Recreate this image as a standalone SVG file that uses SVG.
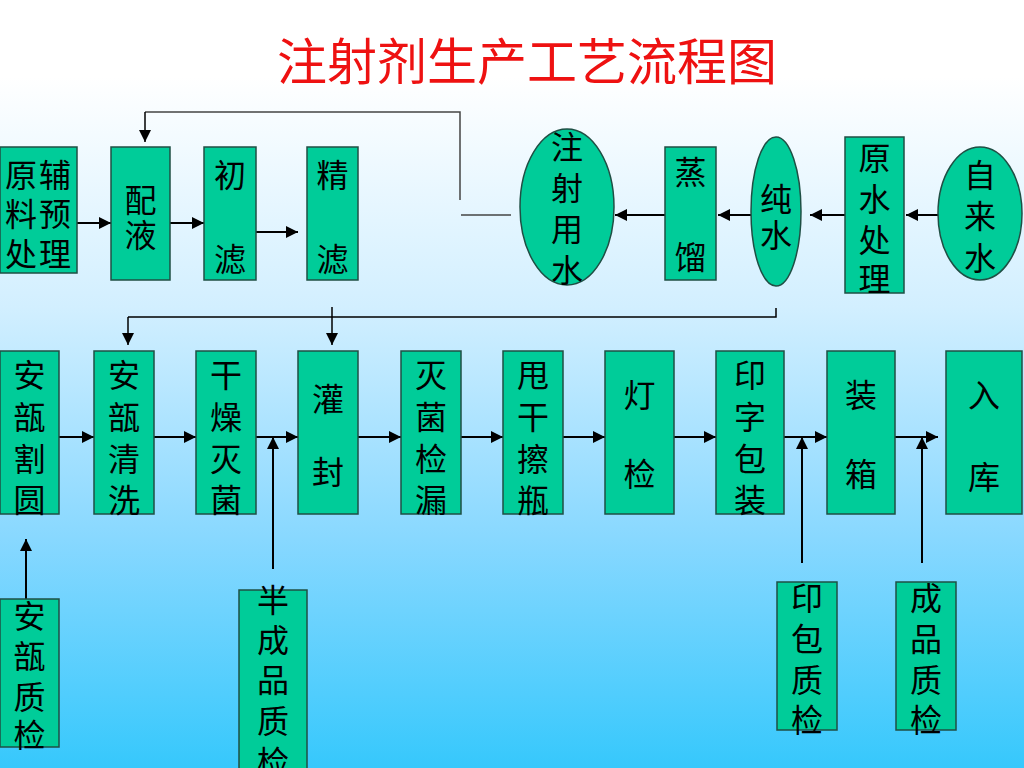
<svg xmlns="http://www.w3.org/2000/svg" width="1024" height="768" viewBox="0 0 1024 768">
<defs>
<linearGradient id="bg" x1="0" y1="0" x2="0" y2="1">
<stop offset="0" stop-color="#ffffff"/>
<stop offset="0.1" stop-color="#ffffff"/>
<stop offset="0.4" stop-color="#d2efff"/>
<stop offset="0.7" stop-color="#88d8ff"/>
<stop offset="1" stop-color="#36c8fc"/>
</linearGradient>
<marker id="ah" viewBox="0 0 12 12" refX="12" refY="6" markerWidth="13" markerHeight="12" markerUnits="userSpaceOnUse" orient="auto">
<path d="M0,0 L12,6 L0,12 z" fill="#000"/>
</marker>
</defs>
<style>
.box{fill:#00cc99;stroke:#1f4f44;stroke-width:1.5}
.t{font-family:"Noto Sans CJK SC","Noto Sans CJK JP",sans-serif;font-size:32px;fill:#000;text-anchor:middle;dominant-baseline:central}
.c{fill:none;stroke:#000;stroke-width:2}
.a{marker-end:url(#ah)}
.g{fill:none;stroke:#444;stroke-width:1.5}
</style>
<rect x="0" y="0" width="1024" height="768" fill="url(#bg)"/>
<text x="527" y="58" style="font-family:'Noto Sans CJK SC',sans-serif;font-size:50px;fill:#ee1111;text-anchor:middle;dominant-baseline:central">注射剂生产工艺流程图</text>

<g id="connectors">
<path class="c a" d="M77,223 H111"/>
<path class="c a" d="M162,223 H204"/>
<path class="c a" d="M256,232 H298"/>
<path class="g" d="M460,200 V112 H145"/>
<path class="c a" d="M145,112 V142" style="stroke-width:1.5"/>
<path class="g" d="M461,215 H511"/>
<path class="c a" d="M665,215 H615"/>
<path class="c a" d="M751,215 H718"/>
<path class="c a" d="M845,215 H810"/>
<path class="c a" d="M939,215 H906"/>
<path class="c" d="M776,308 V317 H128" style="stroke-width:1.5"/>
<path class="c a" d="M128,317 V345" style="stroke-width:1.5"/>
<path class="c a" d="M332,307 V345" style="stroke-width:1.5"/>
<path class="c a" d="M59,437 H94"/>
<path class="c a" d="M154,437 H196"/>
<path class="c a" d="M256,437 H298"/>
<path class="c a" d="M358,437 H401"/>
<path class="c a" d="M461,437 H503"/>
<path class="c a" d="M563,437 H605"/>
<path class="c a" d="M674,437 H716"/>
<path class="c a" d="M784,437 H827"/>
<path class="c a" d="M895,437 H938"/>
<path class="c a" d="M26,599 V539"/>
<path class="c a" d="M273,569 V437"/>
<path class="c a" d="M802,563 V437"/>
<path class="c a" d="M922,563 V437"/>
</g>

<g id="n-yuanfu"><rect class="box" x="0" y="147" width="77" height="126"/>
<text class="t"><tspan x="21" y="173">原</tspan><tspan x="55" y="173">辅</tspan><tspan x="21" y="212">料</tspan><tspan x="55" y="212">预</tspan><tspan x="21" y="252">处</tspan><tspan x="55" y="252">理</tspan></text></g>
<g id="n-peiye"><rect class="box" x="111" y="147" width="59" height="133"/>
<text class="t"><tspan x="140.5" y="198">配</tspan><tspan x="140.5" y="233">液</tspan></text></g>
<g id="n-chulv"><rect class="box" x="204" y="147" width="52" height="133"/>
<text class="t"><tspan x="230" y="173">初</tspan><tspan x="230" y="257">滤</tspan></text></g>
<g id="n-jinglv"><rect class="box" x="307" y="147" width="51" height="133"/>
<text class="t"><tspan x="332.5" y="173">精</tspan><tspan x="332.5" y="257">滤</tspan></text></g>
<g id="n-zhusheshui"><ellipse class="box" cx="567" cy="207" rx="47" ry="78"/>
<text class="t"><tspan x="567" y="145">注</tspan><tspan x="567" y="186">射</tspan><tspan x="567" y="227">用</tspan><tspan x="567" y="268">水</tspan></text></g>
<g id="n-zhengliu"><rect class="box" x="665" y="147" width="51" height="133"/>
<text class="t"><tspan x="690.5" y="170">蒸</tspan><tspan x="690.5" y="255">馏</tspan></text></g>
<g id="n-chunshui"><ellipse class="box" cx="776" cy="211.5" rx="25" ry="74.5"/>
<text class="t"><tspan x="776" y="197">纯</tspan><tspan x="776" y="233">水</tspan></text></g>
<g id="n-yuanshui"><rect class="box" x="845" y="137" width="59" height="156"/>
<text class="t"><tspan x="874.5" y="156">原</tspan><tspan x="874.5" y="197">水</tspan><tspan x="874.5" y="238">处</tspan><tspan x="874.5" y="277">理</tspan></text></g>
<g id="n-zilaishui"><ellipse class="box" cx="980" cy="213.5" rx="42" ry="66.5"/>
<text class="t"><tspan x="980" y="173">自</tspan><tspan x="980" y="214">来</tspan><tspan x="980" y="256">水</tspan></text></g>

<g id="n-gey"><rect class="box" x="0" y="351" width="59" height="163"/>
<text class="t"><tspan x="29.5" y="373">安</tspan><tspan x="29.5" y="415">瓿</tspan><tspan x="29.5" y="457">割</tspan><tspan x="29.5" y="498">圆</tspan></text></g>
<g id="n-qingxi"><rect class="box" x="94" y="351" width="60" height="163"/>
<text class="t"><tspan x="124" y="373">安</tspan><tspan x="124" y="415">瓿</tspan><tspan x="124" y="457">清</tspan><tspan x="124" y="498">洗</tspan></text></g>
<g id="n-ganzao"><rect class="box" x="196" y="351" width="60" height="163"/>
<text class="t"><tspan x="226" y="373">干</tspan><tspan x="226" y="415">燥</tspan><tspan x="226" y="457">灭</tspan><tspan x="226" y="498">菌</tspan></text></g>
<g id="n-guanfeng"><rect class="box" x="298" y="351" width="60" height="163"/>
<text class="t"><tspan x="328" y="397">灌</tspan><tspan x="328" y="470">封</tspan></text></g>
<g id="n-jianlou"><rect class="box" x="401" y="351" width="60" height="163"/>
<text class="t"><tspan x="431" y="373">灭</tspan><tspan x="431" y="415">菌</tspan><tspan x="431" y="457">检</tspan><tspan x="431" y="498">漏</tspan></text></g>
<g id="n-shuaigan"><rect class="box" x="503" y="351" width="60" height="163"/>
<text class="t"><tspan x="533" y="373">甩</tspan><tspan x="533" y="415">干</tspan><tspan x="533" y="457">擦</tspan><tspan x="533" y="498">瓶</tspan></text></g>
<g id="n-dengjian"><rect class="box" x="605" y="351" width="69" height="163"/>
<text class="t"><tspan x="639.5" y="393">灯</tspan><tspan x="639.5" y="472">检</tspan></text></g>
<g id="n-yinzi"><rect class="box" x="716" y="351" width="68" height="163"/>
<text class="t"><tspan x="750" y="373">印</tspan><tspan x="750" y="415">字</tspan><tspan x="750" y="457">包</tspan><tspan x="750" y="498">装</tspan></text></g>
<g id="n-zhuangxiang"><rect class="box" x="827" y="351" width="68" height="163"/>
<text class="t"><tspan x="861" y="393">装</tspan><tspan x="861" y="472">箱</tspan></text></g>
<g id="n-ruku"><rect class="box" x="946" y="351" width="76" height="163"/>
<text class="t"><tspan x="984" y="393">入</tspan><tspan x="984" y="475">库</tspan></text></g>

<g id="n-anbuzhijian"><rect class="box" x="0" y="599" width="59" height="148"/>
<text class="t"><tspan x="29.5" y="614">安</tspan><tspan x="29.5" y="654">瓿</tspan><tspan x="29.5" y="695">质</tspan><tspan x="29.5" y="733">检</tspan></text></g>
<g id="n-banchengpin"><rect class="box" x="239" y="590" width="68" height="190"/>
<text class="t"><tspan x="273" y="598">半</tspan><tspan x="273" y="638">成</tspan><tspan x="273" y="678">品</tspan><tspan x="273" y="719">质</tspan><tspan x="273" y="760">检</tspan></text></g>
<g id="n-yinbao"><rect class="box" x="777" y="582" width="60" height="148"/>
<text class="t"><tspan x="807" y="596">印</tspan><tspan x="807" y="637">包</tspan><tspan x="807" y="678">质</tspan><tspan x="807" y="718">检</tspan></text></g>
<g id="n-chengpin"><rect class="box" x="896" y="582" width="60" height="148"/>
<text class="t"><tspan x="926" y="596">成</tspan><tspan x="926" y="637">品</tspan><tspan x="926" y="678">质</tspan><tspan x="926" y="718">检</tspan></text></g>
</svg>
